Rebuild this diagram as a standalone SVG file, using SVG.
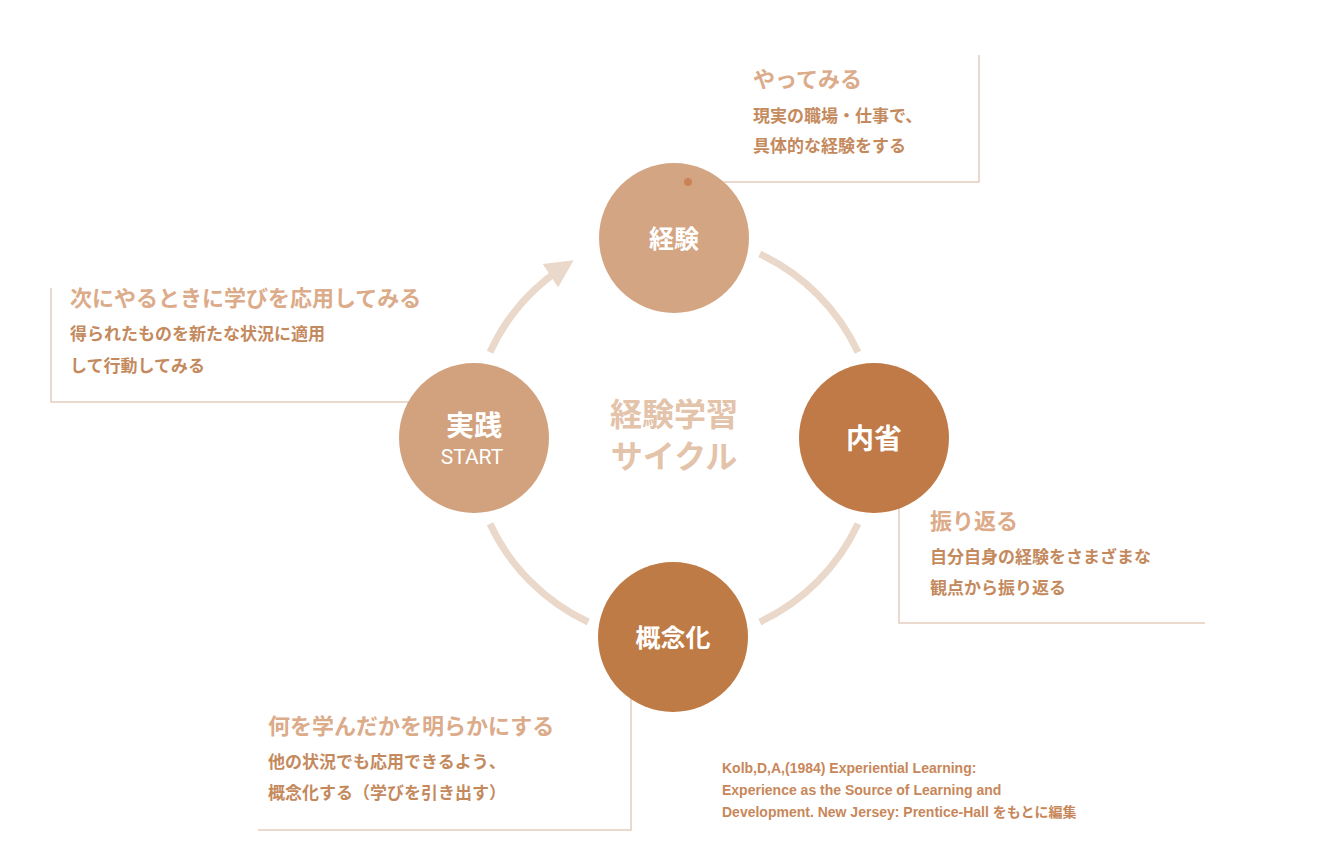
<svg xmlns="http://www.w3.org/2000/svg" width="1330" height="866" viewBox="0 0 1330 866">
<style>
.jp{font-family:"Noto Sans CJK JP","Noto Sans",sans-serif;font-weight:bold}
.h{font-size:22px;fill:#dcab8a}
.b{font-size:17px;fill:#c48a5e}
.w{fill:#fff;text-anchor:middle}
.ln{stroke:#e6cdbd;stroke-width:1.5;fill:none}
.arc{stroke:#ead8ca;stroke-width:7;fill:none}
.cite{font-family:"Liberation Sans",sans-serif;font-weight:bold;font-size:14px;fill:#c8875a}
</style>
<defs>
<marker id="ah" viewBox="0 0 10 10" refX="5" refY="5" markerWidth="4" markerHeight="4" orient="auto" markerUnits="strokeWidth">
<path d="M0,0 L10,5 L0,10 z" fill="#ead8ca"/>
</marker>
</defs>
<rect width="1330" height="866" fill="#fff"/>
<g id="connectors">
<path class="arc" d="M759.8,254 A203,203 0 0 1 858,352.2"/>
<path class="arc" d="M858,523.8 A203,203 0 0 1 759.8,622"/>
<path class="arc" d="M588.2,622 A203,203 0 0 1 490,523.8"/>
<path class="arc" d="M490,352.2 A203,203 0 0 1 562,268" marker-end="url(#ah)"/>
</g>
<g id="center-label">
<text class="jp" x="674" y="426" font-size="32" fill="#e3c3aa" text-anchor="middle">経験学習</text>
<text class="jp" x="674" y="468" font-size="32" fill="#e3c3aa" text-anchor="middle">サイクル</text>
</g>
<g id="callout-experience">
<path class="ln" d="M979,55 V182 H690"/>
<circle cx="688" cy="182" r="4" fill="#c98356"/>
<text class="jp h" x="753" y="87">やってみる</text>
<text class="jp b" x="753" y="122">現実の職場・仕事で、</text>
<text class="jp b" x="753" y="152">具体的な経験をする</text>
</g>
<g id="callout-practice">
<path class="ln" d="M51,288 V402 H440"/>
<text class="jp h" x="70" y="306">次にやるときに学びを応用してみる</text>
<text class="jp b" x="70" y="340">得られたものを新たな状況に適用</text>
<text class="jp b" x="70" y="372">して行動してみる</text>
</g>
<g id="callout-reflection">
<path class="ln" d="M899,490 V623 H1205"/>
<text class="jp h" x="930" y="529">振り返る</text>
<text class="jp b" x="930" y="563">自分自身の経験をさまざまな</text>
<text class="jp b" x="930" y="594">観点から振り返る</text>
</g>
<g id="callout-concept">
<path class="ln" d="M631,678 V830 H258"/>
<text class="jp h" x="268" y="734">何を学んだかを明らかにする</text>
<text class="jp b" x="268" y="768">他の状況でも応用できるよう、</text>
<text class="jp b" x="268" y="799">概念化する（学びを引き出す）</text>
</g>
<g id="node-experience">
<circle cx="674" cy="238" r="75" fill="#d4a583"/>
<circle cx="688" cy="182" r="4" fill="#c98356"/>
<text class="jp w" x="674" y="248" font-size="25">経験</text>
</g>
<g id="node-reflection">
<circle cx="874" cy="438" r="75" fill="#c07a48"/>
<text class="jp w" x="874" y="449" font-size="28">内省</text>
</g>
<g id="node-concept">
<circle cx="673" cy="637" r="75" fill="#bf7b45"/>
<text class="jp w" x="673" y="647" font-size="25">概念化</text>
</g>
<g id="node-practice">
<circle cx="474" cy="438" r="75" fill="#d2a27e"/>
<text class="jp w" x="474" y="436" font-size="28">実践</text>
<text x="472" y="464" font-family="Roboto,'Liberation Sans',sans-serif" font-size="21" fill="#fff" text-anchor="middle">START</text>
</g>
<g id="citation">
<text class="cite" x="722" y="773">Kolb,D,A,(1984) Experiential Learning:</text>
<text class="cite" x="722" y="795">Experience as the Source of Learning and</text>
<text class="cite" x="722" y="817">Development. New Jersey: Prentice-Hall <tspan font-family="'Noto Sans CJK JP',sans-serif">をもとに編集</tspan></text>
</g>
</svg>
